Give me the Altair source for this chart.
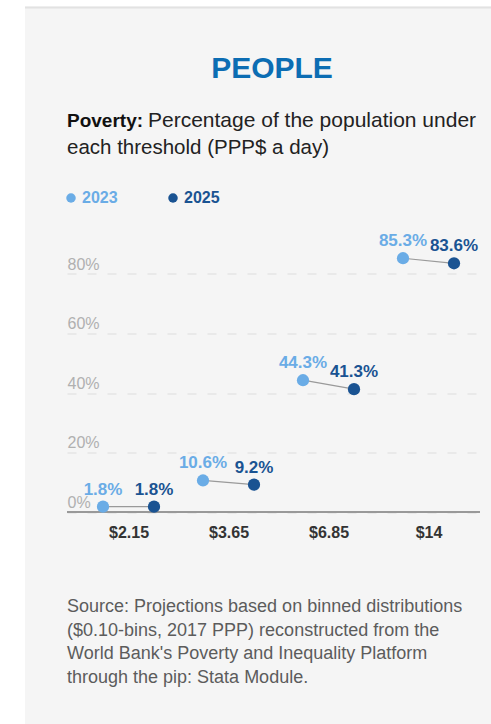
import altair as alt
import pandas as pd

thresholds = ["$2.15", "$3.65", "$6.85", "$14"]
years = ["2023", "2025"]
pov_2023 = [1.8, 10.6, 44.3, 85.3]
pov_2025 = [1.8, 9.2, 41.3, 83.6]
y_ticks = [0, 20, 40, 60, 80]
title_text = "PEOPLE"
subtitle_bold = "Poverty:"
subtitle_rest = "Percentage of the population under"
subtitle_line2 = "each threshold (PPP$ a day)"
source_lines = [
    "Source: Projections based on binned distributions",
    "($0.10-bins, 2017 PPP) reconstructed from the",
    "World Bank's Poverty and Inequality Platform",
    "through the pip: Stata Module.",
]

LIGHT = "#6aace6"
DARK = "#1a5392"
FONT = "Liberation Sans"

rows = []
for i, t in enumerate(thresholds):
    rows.append({"threshold": t, "idx": i, "year": "2023", "value": pov_2023[i]})
    rows.append({"threshold": t, "idx": i, "year": "2025", "value": pov_2025[i]})
df = pd.DataFrame(rows)

W, H = 413, 297.5
PL, PT = 67, 214.5

base = alt.Chart(df).transform_calculate(
    pos="datum.idx + (datum.year == '2023' ? -0.255 : 0.255)",
    label="format(datum.value, '.1f') + '%'",
)

label_expr = "[" + ",".join("'%s'" % t for t in thresholds) + "][datum.value]"

xscale = alt.Scale(domain=[-0.615, 3.515], nice=False, zero=False)
yscale = alt.Scale(domain=[0, 100], nice=False)

x_enc = alt.X(
    "pos:Q",
    scale=xscale,
    axis=alt.Axis(
        values=[0, 1, 2, 3],
        labelExpr=label_expr,
        title=None,
        grid=False,
        domain=False,
        ticks=False,
        tickSize=0,
        labelPadding=12,
        labelFontSize=16,
        labelFontWeight="bold",
        labelColor="#333333",
        labelFont=FONT,
    ),
)
y_enc = alt.Y(
    "value:Q",
    scale=yscale,
    axis=alt.Axis(
        values=y_ticks,
        labelExpr="datum.value + '%'",
        title=None,
        domain=False,
        ticks=False,
        tickSize=0,
        labelPadding=0,
        labelAlign="left",
        labelBaseline="alphabetic",
        labelOffset=-5,
        labelFontSize=16,
        labelColor="#b0b0b0",
        labelFont=FONT,
        grid=True,
        gridColor="#dedede",
        gridDash=[9, 11],
        gridWidth=1.2,
    ),
)

color = alt.Color(
    "year:N",
    scale=alt.Scale(domain=years, range=[LIGHT, DARK]),
    legend=alt.Legend(
        title=None,
        orient="none",
        legendX=-4,
        legendY=-24.5,
        direction="horizontal",
        symbolType="circle",
        symbolSize=90,
        symbolStrokeWidth=0,
        symbolOpacity=1,
        labelFontSize=16,
        labelFontWeight="bold",
        labelFont=FONT,
        labelColor={"expr": "datum.label == '2023' ? '%s' : '%s'" % (LIGHT, DARK)},
        labelOffset=3,
        columnPadding=47,
        padding=0,
    ),
)

one = pd.DataFrame({"a": [0]})

# white margins outside the grey card
white_left = alt.Chart(one).mark_rect(color="#ffffff").encode(
    x=alt.value(-PL), x2=alt.value(25 - PL),
    y=alt.value(-PT), y2=alt.value(724 - PT),
)
white_top = alt.Chart(one).mark_rect(color="#ffffff").encode(
    x=alt.value(-PL), x2=alt.value(491 - PL),
    y=alt.value(-PT), y2=alt.value(6.5 - PT),
)
topline = alt.Chart(one).mark_rule(color="#e2e2e2", strokeWidth=2).encode(
    x=alt.value(25 - PL), x2=alt.value(491 - PL), y=alt.value(7.5 - PT),
)

title = alt.Chart(one).mark_text(
    text=title_text, font=FONT, fontSize=30, fontWeight="bold", color="#0c6db3",
    align="center", baseline="alphabetic",
).encode(x=alt.value(272 - PL), y=alt.value(77.5 - PT))

sub1 = alt.Chart(one).mark_text(
    text=subtitle_bold, font=FONT, fontSize=19, fontWeight="bold", color="#111111",
    align="left", baseline="alphabetic",
).encode(x=alt.value(0), y=alt.value(127 - PT))
sub2 = alt.Chart(one).mark_text(
    text=subtitle_rest, font=FONT, fontSize=21, color="#222222",
    align="left", baseline="alphabetic",
).encode(x=alt.value(148 - PL), y=alt.value(127 - PT))
sub3 = alt.Chart(one).mark_text(
    text=subtitle_line2, font=FONT, fontSize=20.5, color="#222222",
    align="left", baseline="alphabetic",
).encode(x=alt.value(0), y=alt.value(154 - PT))

source = alt.Chart(one).mark_text(
    text=source_lines, font=FONT, fontSize=18, color="#5c5c5c",
    align="left", baseline="alphabetic", lineHeight=23.5,
).encode(x=alt.value(0), y=alt.value(612 - PT))

baseline_rule = alt.Chart(one).mark_rule(color="#999999", strokeWidth=2).encode(
    y=alt.datum(0, scale=yscale), x=alt.value(0), x2=alt.value(W),
)

lines = base.mark_line(color="#9a9a9a", strokeWidth=1.2).encode(
    x=x_enc, y=y_enc, detail="threshold:N",
)
points = base.mark_point(filled=True, opacity=1, size=150).encode(
    x=x_enc, y=y_enc, color=color,
)
labels = base.mark_text(
    font=FONT, fontSize=17, fontWeight="bold", baseline="alphabetic", dy=-12,
).encode(
    x=x_enc, y=y_enc, text="label:N",
    color=alt.Color("year:N", scale=alt.Scale(domain=years, range=[LIGHT, DARK]), legend=None),
)

chart = alt.layer(
    white_left, white_top, topline, title, sub1, sub2, sub3, source,
    lines, baseline_rule, points, labels,
).properties(
    width=W, height=H,
    autosize=alt.AutoSizeParams(type="none"),
    padding={"left": PL, "top": PT, "right": 491 - PL - W, "bottom": 724 - PT - H},
    background="#f5f5f5",
).configure(font=FONT).configure_view(strokeWidth=0, stroke="transparent")

chart.save("out.html", embed_options={"renderer": "svg", "actions": False})
